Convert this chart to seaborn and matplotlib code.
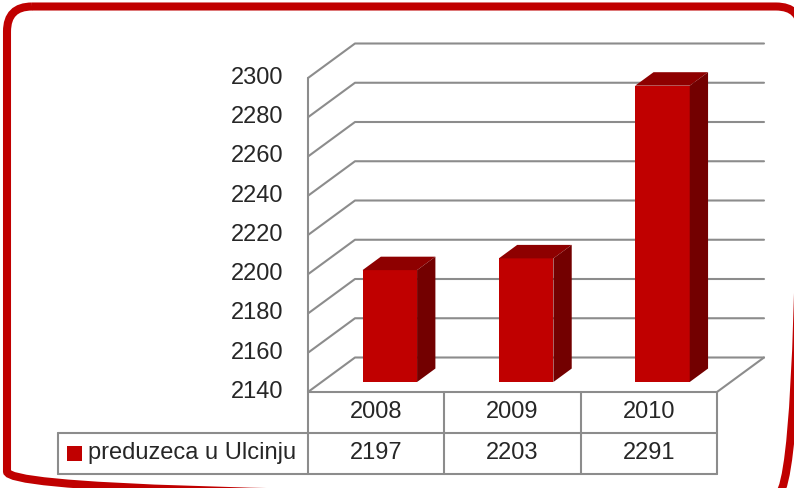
import matplotlib
matplotlib.use('Agg')
import matplotlib.pyplot as plt
import seaborn as sns
import pandas as pd
from matplotlib.patches import Polygon, FancyBboxPatch, Rectangle

# data
years = ['2008', '2009', '2010']
counts = [2197, 2203, 2291]
series_name = 'preduzeca u Ulcinju'
y_ticks = [2140, 2160, 2180, 2200, 2220, 2240, 2260, 2280, 2300]

sns.set_style('white')
plt.rcParams['font.family'] = ['Liberation Sans', 'DejaVu Sans']

W, H = 794, 488
fig = plt.figure(figsize=(W / 100, H / 100), dpi=100)

# fake 3d geometry (pixels, image coords with y down)
front_left, front_right = 308, 717
base_y, top_y = 392, 78
depth = (47, -34.5)          # front -> back wall
plane = 0.29                 # where the bar fronts sit
bar_depth = 0.39
grid_col = '#8c8c8c'
red, red_top, red_side = '#c00000', '#8e0000', '#730000'

bg = fig.add_axes([0, 0, 1, 1], zorder=0)
bg.set_xlim(0, W)
bg.set_ylim(H, 0)
bg.axis('off')

ax = fig.add_axes([(front_left + plane * depth[0]) / W,
                   (H - base_y - plane * depth[1]) / H,
                   (front_right - front_left) / W,
                   (base_y - top_y) / H], zorder=1)
ax.patch.set_alpha(0)

df = pd.DataFrame({'year': years, 'count': counts})
sns.barplot(data=df, x='year', y='count', color=red, saturation=1,
            width=0.4, linewidth=0, ax=ax)
ax.set_xlim(-0.5, len(years) - 0.5)
ax.set_ylim(y_ticks[0], y_ticks[-1])
ax.axis('off')

fg = fig.add_axes([0, 0, 1, 1], zorder=2)
fg.set_xlim(0, W)
fg.set_ylim(H, 0)
fg.axis('off')
fg.patch.set_alpha(0)


def img(x, y):
    d = ax.transData.transform((x, y))
    return d[0], H - d[1]


def front(x, y):
    px, py = img(x, y)
    return px - plane * depth[0], py - plane * depth[1]


x_lo, x_hi = -0.5, len(years) - 0.5

# walls and grid
for v in y_ticks:
    fx, fy = front(x_lo, v)
    rx, ry = front(x_hi, v)
    bg.plot([fx, fx + depth[0], rx + depth[0]],
            [fy, fy + depth[1], ry + depth[1]], color=grid_col, lw=1.5)
    bg.text(283, fy, str(v), ha='right', va='center', fontsize=17)

ax0, ay0 = front(x_lo, y_ticks[0])
ax1, ay1 = front(x_lo, y_ticks[-1])
bx, by = front(x_hi, y_ticks[0])
bg.plot([ax1, ax0, bx, bx + depth[0]], [ay1, ay0, by, by + depth[1]],
        color=grid_col, lw=1.5)

# top and side faces of the bars
ox, oy = bar_depth * depth[0], bar_depth * depth[1]
for p in ax.patches:
    x0 = p.get_x()
    x1 = x0 + p.get_width()
    top = p.get_y() + p.get_height()
    X0, Yt = img(x0, top)
    X1, Yb = img(x1, max(p.get_y(), y_ticks[0]))
    fg.add_patch(Polygon([(X0, Yt), (X1, Yt), (X1 + ox, Yt + oy), (X0 + ox, Yt + oy)],
                         closed=True, facecolor=red_top, edgecolor='none'))
    fg.add_patch(Polygon([(X1, Yt), (X1, Yb), (X1 + ox, Yb + oy), (X1 + ox, Yt + oy)],
                         closed=True, facecolor=red_side, edgecolor='none'))

# data table
row_h = 41
r0 = ay0
r1, r2 = r0 + row_h, r0 + 2 * row_h
leg_left = 58
edges = [front(i - 0.5, y_ticks[0])[0] for i in range(len(years) + 1)]
for ex in edges:
    bg.plot([ex, ex], [r0, r2], color=grid_col, lw=1.5)
bg.plot([leg_left, edges[-1]], [r1, r1], color=grid_col, lw=1.5)
bg.plot([leg_left, edges[-1]], [r2, r2], color=grid_col, lw=1.5)
bg.plot([leg_left, leg_left], [r1, r2], color=grid_col, lw=1.5)

for i, (yr, c) in enumerate(zip(years, counts)):
    cx = (edges[i] + edges[i + 1]) / 2
    bg.text(cx, (r0 + r1) / 2, yr, ha='center', va='center', fontsize=17)
    bg.text(cx, (r1 + r2) / 2, str(c), ha='center', va='center', fontsize=17)

bg.add_patch(Rectangle((67, (r1 + r2) / 2 - 7.5), 15, 15, facecolor=red, edgecolor='none'))
bg.text(88, (r1 + r2) / 2, series_name, ha='left', va='center', fontsize=17)

# rounded red frame, partly running off the canvas
bg.add_patch(FancyBboxPatch((7, 6.5), 794, 490,
                            boxstyle='round,pad=0,rounding_size=25',
                            facecolor='none', edgecolor=red, lw=5.8))

fig.savefig('out.png', dpi=100)
